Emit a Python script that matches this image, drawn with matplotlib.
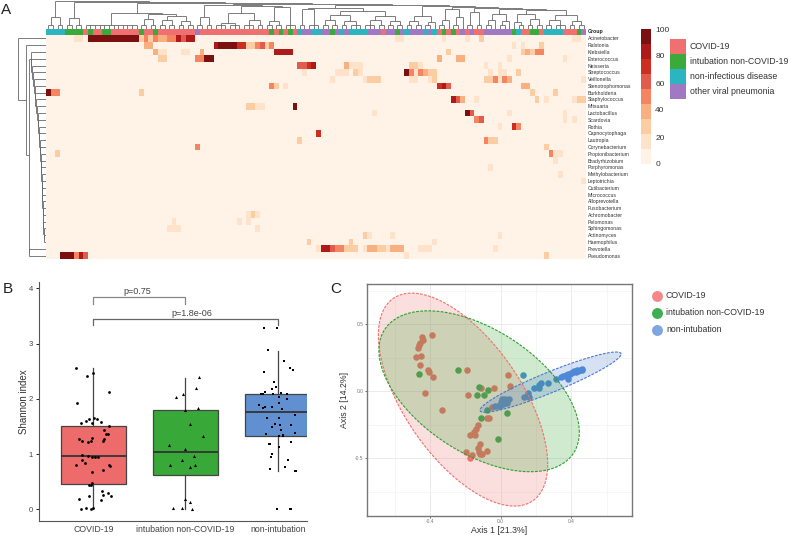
import numpy as np
import matplotlib
matplotlib.use("Agg")
import matplotlib.pyplot as plt
from matplotlib.collections import LineCollection
from matplotlib.colors import ListedColormap, BoundaryNorm
from matplotlib.patches import Rectangle

plt.rcParams['font.family'] = ['Liberation Sans', 'DejaVu Sans']

W, H = 789, 535

# ---- panel A data ----
genera = ["Acinetobacter", "Ralstonia", "Klebsiella", "Enterococcus", "Neisseria", "Streptococcus",
          "Veillonella", "Stenotrophomonas", "Burkholderia", "Staphylococcus", "Mitsuaria", "Lactobacillus",
          "Scardovia", "Rothia", "Capnocytophaga", "Lautropia", "Corynebacterium", "Propionibacterium",
          "Bradyrhizobium", "Porphyromonas", "Methylobacterium", "Leptotrichia", "Cutibacterium", "Micrococcus",
          "Alloprevotella", "Fusobacterium", "Achromobacter", "Pelomonas", "Sphingomonas", "Actinomyces",
          "Haemophilus", "Prevotella", "Pseudomonas"]
n_samples = 116

# (row, first column, number of columns, value)
heat_cells = [
    (0, 6, 2, 15), (0, 9, 11, 97), (0, 20, 1, 30), (0, 21, 1, 45), (0, 22, 1, 25), (0, 23, 1, 50), (0, 24, 2, 35),
    (0, 26, 2, 55), (0, 28, 1, 85), (0, 29, 1, 60), (0, 30, 2, 88), (0, 75, 2, 15), (0, 85, 1, 15), (0, 90, 1, 15),
    (0, 93, 1, 30), (0, 113, 2, 15),
    (1, 21, 2, 35), (1, 36, 1, 88), (1, 37, 4, 98), (1, 41, 2, 75), (1, 43, 2, 25), (1, 45, 1, 50), (1, 46, 1, 60),
    (1, 47, 1, 25), (1, 48, 1, 50), (1, 100, 1, 15), (1, 102, 1, 15), (1, 106, 1, 30),
    (2, 23, 1, 35), (2, 24, 1, 20), (2, 25, 1, 15), (2, 29, 2, 15), (2, 33, 1, 40), (2, 49, 1, 78), (2, 50, 3, 88),
    (2, 86, 1, 25), (2, 102, 1, 25), (2, 103, 1, 35), (2, 104, 1, 25), (2, 105, 2, 50),
    (3, 24, 2, 25), (3, 32, 2, 50), (3, 34, 2, 98), (3, 84, 1, 40), (3, 88, 2, 35), (3, 99, 1, 15), (3, 111, 1, 15),
    (4, 54, 2, 58), (4, 56, 1, 75), (4, 57, 1, 88), (4, 64, 1, 40), (4, 65, 3, 15), (4, 78, 2, 25), (4, 80, 1, 15),
    (4, 94, 1, 15), (4, 97, 1, 15),
    (5, 55, 1, 15), (5, 62, 3, 15), (5, 66, 1, 25), (5, 67, 1, 15), (5, 77, 1, 90), (5, 78, 1, 50), (5, 79, 1, 20),
    (5, 80, 1, 50), (5, 81, 1, 35), (5, 82, 2, 25), (5, 95, 1, 15), (5, 97, 2, 15), (5, 101, 1, 30),
    (6, 61, 1, 15), (6, 68, 1, 15), (6, 69, 3, 25), (6, 78, 2, 15), (6, 82, 1, 15), (6, 83, 1, 25), (6, 94, 2, 25),
    (6, 96, 1, 50), (6, 97, 1, 20), (6, 98, 1, 50), (6, 99, 1, 35), (6, 115, 1, 15),
    (7, 48, 1, 50), (7, 49, 1, 25), (7, 51, 1, 15), (7, 84, 1, 68), (7, 85, 1, 85), (7, 86, 1, 60), (7, 102, 2, 35),
    (8, 0, 1, 98), (8, 1, 2, 50), (8, 20, 1, 25), (8, 104, 1, 25), (8, 109, 1, 25),
    (9, 87, 1, 88), (9, 88, 1, 60), (9, 89, 1, 40), (9, 92, 1, 20), (9, 105, 1, 25), (9, 107, 1, 15), (9, 113, 1, 15),
    (9, 114, 2, 25),
    (10, 43, 2, 25), (10, 45, 1, 15), (10, 46, 1, 20), (10, 53, 1, 95),
    (11, 70, 1, 15), (11, 90, 1, 90), (11, 91, 1, 60), (11, 99, 1, 15), (11, 111, 1, 15),
    (12, 92, 1, 50), (12, 93, 1, 65), (12, 111, 1, 15), (12, 113, 1, 15),
    (13, 97, 1, 15), (13, 100, 1, 75), (13, 101, 1, 55),
    (14, 58, 1, 70),
    (15, 54, 1, 25), (15, 94, 1, 55), (15, 95, 2, 25),
    (16, 32, 1, 55), (16, 107, 1, 25),
    (17, 2, 1, 25), (17, 108, 1, 45), (17, 109, 2, 15),
    (18, 109, 1, 15), (19, 95, 1, 15), (20, 110, 1, 15), (21, 115, 1, 15),
    (26, 43, 1, 15), (26, 44, 1, 25), (26, 45, 1, 15),
    (27, 27, 1, 15), (27, 41, 1, 15), (27, 43, 1, 15),
    (28, 26, 3, 15), (28, 45, 1, 15),
    (29, 68, 1, 25), (29, 69, 1, 15), (29, 74, 1, 15), (29, 97, 1, 15),
    (30, 56, 1, 25), (30, 65, 1, 25), (30, 83, 1, 15),
    (31, 58, 1, 15), (31, 59, 2, 85), (31, 61, 1, 65), (31, 62, 2, 50), (31, 64, 3, 25), (31, 68, 1, 15),
    (31, 69, 2, 35), (31, 71, 2, 25), (31, 73, 1, 15), (31, 74, 3, 35), (31, 80, 3, 20), (31, 96, 1, 15),
    (32, 3, 1, 90), (32, 4, 2, 98), (32, 6, 1, 50), (32, 7, 1, 80), (32, 8, 1, 60), (32, 77, 1, 15), (32, 107, 1, 25),
]

# sample groups left to right: 0 COVID-19, 1 intubation, 2 non-infectious, 3 other viral
group_runs = [(2, 4), (1, 4), (0, 1), (1, 1), (0, 2), (1, 2), (0, 6), (1, 1), (0, 2), (1, 1), (0, 8), (3, 1), (0, 15),
              (1, 1), (0, 1), (1, 1), (0, 1), (1, 1), (0, 1), (2, 1), (3, 2), (2, 2), (3, 2), (1, 1), (3, 1), (2, 1),
              (3, 1), (2, 4), (3, 3), (0, 1), (3, 2), (1, 1), (3, 1), (2, 1), (3, 3), (2, 1), (3, 1), (2, 1), (0, 1),
              (1, 1), (0, 1), (1, 1), (0, 1), (3, 1), (0, 1), (3, 1), (0, 2), (3, 6), (1, 1), (2, 1), (0, 2), (1, 2),
              (0, 1), (2, 4), (0, 3), (1, 1), (3, 1)]
group_names = ["COVID-19", "intubation non-COVID-19", "non-infectious disease", "other viral pneumonia"]
group_colors = ["#EE7070", "#3BAA3B", "#2CB5C0", "#A078C4"]

heat_colors = ["#FFF3E8", "#FEE2CA", "#FCCDA2", "#F9B080", "#F58560", "#E25C4E", "#CC2E20", "#AE1A1A", "#7A1010"]

# dendrograms: (merge height, child, child), an int child is that many leaves
col_tree = (28, (12, 2, 2), (27, (11, 2, 2), (26,
    (16, 12, (15, (10, 2, 2), (13, (9, 2, 2), (8, 2, 2)))),
    (25.5, (24, (12, 2, 2), (23, (16, (6, 3, 3), (9, 3, 2)), (22, (8, 2, 2), 3))),
     (24, (21, (20, 2, 3), (18, (14, (9, 2, 2), (8, 2, 3)), (13, (9, 3, 2), (8, 2, 2)))),
      (23, (13, (8, 2, 2), (7, 2, 1)),
       (22, (20, (9, 2, 1), (12, 2, 1)),
        (21, (17, 2, 2),
         (20, (15, (9, 2, 1), (8, 2, 1)),
          (19, (15, (7, 1, 2), (10, 2, 2)), (14, (9, 2, 3), (8, 2, 2))))))))))))
row_chain_heights = [15.5, 15, 14.5, 13, 12.5, 11.5, 11, 10, 9.5, 8.5, 8, 7.5, 7, 6.5, 6, 5.5, 5, 5, 4.5, 4.5, 4, 4,
                     3.5, 3.5, 3, 3, 2.5, 2]

# ---- panel B data ----
box_labels = ["COVID-19", "intubation non-COVID-19", "non-intubation"]
box_colors = ["#EE6B6B", "#38A938", "#6090D0"]
box_q1 = [0.46, 0.62, 1.32]
box_med = [0.97, 1.03, 1.77]
box_q3 = [1.50, 1.80, 2.09]
box_lo = [0.0, 0.0, 0.70]
box_hi = [2.55, 2.38, 2.87]

covid_dx = [-.188, 0, -.072, .166, -.181, -.137, -.08, -.043, .007, .043, .08, -.018, .166, .119, .137, .155, -.155,
            -.119, -.054, -.029, -.018, .116, .108, -.127, -.054, -.014, .018, .047, -.119, -.087, -.188, .17, .177,
            .108, -.011, -.018, -.029, -.043, .094, .159, .192, .105, -.043, -.152, .08, -.08, -.137, -.029, -.007]
covid_shannon = [2.55, 2.46, 2.41, 2.12, 1.92, 1.56, 1.59, 1.63, 1.65, 1.63, 1.58, 1.56, 1.51, 1.44, 1.37, 1.37, 1.27,
                 1.24, 1.22, 1.24, 1.29, 1.27, 1.24, .98, .96, .94, .95, .94, .89, .83, .80, .81, .79,
                 .71, .68, .47, .44, .44, .33, .29, .24, .26, .24, .19, .16, .02, .01, .01, .02]
intub_dx = [.152, .116, -.025, -.105, .141, 0, .054, .192, -.181, 0, .094, -.033, -.166, .108, .054, 0, .047, -.137,
            -.043, .069]
intub_shannon = [2.39, 2.20, 2.09, 2.03, 1.84, 1.79, 1.54, 1.32, 1.16, 1.09, .97, .89, .80, .81, .77, .19, .13, .02,
                 .02, .01]
nonint_dx = [-.145, -.004, -.105, .065, .13, .17, -.145, -.036, -.014, -.058, -.137, -.184, -.159, -.051, .033, .105,
             .018, .011, .098, -.199, -.137, -.155, -.065, .051, .184, -.119, .011, -.029, .025, -.058, .148, .033,
             .192, -.13, .011, .054, .061, -.09, -.083, .141, .018, -.065, -.069, .112, .08, -.083, .192, .199, -.004,
             .134, .141]
nonint_shannon = [3.28, 3.28, 2.88, 2.69, 2.56, 2.53, 2.49, 2.30, 2.21, 2.17, 2.12, 2.08, 2.08, 2.08, 2.11, 2.09,
                  2.03, 1.92, 2.0, 1.88, 1.86, 1.84, 1.85, 1.82, 1.71, 1.66, 1.66, 1.55, 1.52, 1.49, 1.53, 1.43,
                  1.39, 1.36, 1.32, 1.35, 1.32, 1.19, 1.19, 1.21, 1.13, 1.01, .94, .90, .76, .73, .70, .70, .01,
                  .01, .01]

# ---- panel C data ----
covid_ax1 = [-.391, -.447, -.442, -.457, -.460, -.470, -.481, -.451, -.458, -.413, -.404, -.383, -.430, -.334, -.191,
             -.183, -.111, -.036, .043, .051, -.047, -.064, -.077, -.130, -.142, -.151, -.157, -.172, -.147, -.119,
             -.130, -.123, -.115, -.104, -.075, -.194, -.162, -.174]
covid_ax2 = [.420, .403, .383, .358, .346, .323, .259, .264, .199, .162, .142, .104, -.015, -.139, .162, -.027, .022,
             .022, .122, .037, -.114, -.201, -.201, -.249, -.281, -.301, -.321, -.328, -.326, -.393, -.425, -.450,
             -.468, -.470, -.448, -.453, -.473, -.498]
intub_ax1 = [-.460, -.242, -.121, -.070, -.094, -.134, -.075, -.109, .036, -.015]
intub_ax2 = [.132, .159, .032, .007, -.025, -.030, -.139, -.197, -.162, -.356]
nonint_ax1 = [.125, .311, .270, .228, .217, .187, .219, .153, .134, .160, .047, .025, .009, .034, .006, -.004, -.017,
              -.032, 0, .015, .462, .449, .440, .425, .411, .398, .383, .368, .355, .342, .458, .430, .417, .392,
              .379, .383]
nonint_ax2 = [.124, .090, .065, .065, .047, .025, .022, -.010, -.042, -.042, -.057, -.057, -.057, -.085, -.090, -.107,
              -.109, -.107, -.077, -.097, .169, .159, .154, .147, .142, .137, .132, .122, .114, .104, .162, .157,
              .149, .127, .122, .092]
pcoa_colors = ["#F0706C", "#33A852", "#4F8FD8"]
legend_colors = ["#F48888", "#3CB050", "#7FA6E0"]

# ellipses: centre x, centre y, half range x, half range y, correlation
ell_covid = (-.213, -.062, .479, .794, -.606)
ell_intub = (-.122, 0.0, .567, .600, -.51)
ell_nonint = (.282, .068, .399, .225, .93)
ell_colors = ["#F0706C", "#2CA02C", "#4A78D0"]


def px_axes(x0, y0, x1, y1):
    # rectangle given in image pixels, y counted from the top
    return fig.add_axes([x0 / W, 1 - y1 / H, (x1 - x0) / W, (y1 - y0) / H])


def tree_segments(node, segs, pos):
    if isinstance(node, int):
        xs = list(range(pos[0], pos[0] + node))
        pos[0] += node
        if node == 1:
            return xs[0], 0
        for x in xs:
            segs.append([(x, 0), (x, 4.5)])
        segs.append([(xs[0], 4.5), (xs[-1], 4.5)])
        return (xs[0] + xs[-1]) / 2, 4.5
    h, *kids = node
    pts = [tree_segments(k, segs, pos) for k in kids]
    for x, y in pts:
        segs.append([(x, y), (x, h)])
    segs.append([(pts[0][0], h), (pts[-1][0], h)])
    return (pts[0][0] + pts[-1][0]) / 2, h


fig = plt.figure(figsize=(W / 100, H / 100), dpi=100)

# overlay for the panel letters and hand placed legends
ov = fig.add_axes([0, 0, 1, 1])
ov.set_xlim(0, W)
ov.set_ylim(H, 0)
ov.axis("off")
ov.text(1, 9.5, "A", fontsize=11, color="#222222", va="center")
ov.text(3, 289, "B", fontsize=11, color="#222222", va="center")
ov.text(330, 289, "C", fontsize=11, color="#222222", va="center")

# ---- A: heatmap ----
matrix = np.zeros((len(genera), n_samples))
for row, start, n, value in heat_cells:
    matrix[row, start:start + n] = value
heat_cmap = ListedColormap(heat_colors)
heat_norm = BoundaryNorm(np.linspace(0, 100, 10), heat_cmap.N)

ax_heat = px_axes(46, 35, 586, 259)
im = ax_heat.imshow(matrix, cmap=heat_cmap, norm=heat_norm, aspect="auto", interpolation="nearest")
ax_heat.set_xticks([])
ax_heat.yaxis.tick_right()
ax_heat.set_yticks(range(len(genera)), genera, fontsize=3.7, color="#333333")
ax_heat.tick_params(axis="y", length=0, pad=1.2)
for s in ax_heat.spines.values():
    s.set_visible(False)

groups = []
for g, n in group_runs:
    groups += [g] * n
ax_grp = px_axes(46, 29, 586, 35)
ax_grp.imshow([groups], cmap=ListedColormap(group_colors), vmin=0, vmax=3, aspect="auto", interpolation="nearest")
ax_grp.axis("off")
ov.text(587.5, 32, "Group", fontsize=3.7, fontweight="bold", color="#222222", va="center")

ax_top = px_axes(46, 1, 586, 29)
segs = []
tree_segments(col_tree, segs, [0])
ax_top.add_collection(LineCollection(segs, colors="#666666", linewidths=0.6))
ax_top.set_xlim(-0.5, n_samples - 0.5)
ax_top.set_ylim(0, 28.5)
ax_top.axis("off")

row_chain = (row_chain_heights[-1], 1, 1)
for h in reversed(row_chain_heights[:-1]):
    row_chain = (h, 1, row_chain)
row_tree = (27.7, 1, (20, 1, (17, row_chain, (16.7, 1, 1))))
ax_left = px_axes(18, 35, 46, 259)
segs = []
tree_segments(row_tree, segs, [0])
segs = [[(y, x) for x, y in seg] for seg in segs]
ax_left.add_collection(LineCollection(segs, colors="#666666", linewidths=0.6))
ax_left.set_xlim(28, 0)
ax_left.set_ylim(len(genera) - 0.5, -0.5)
ax_left.axis("off")

cax = px_axes(641, 29, 651, 164)
cb = fig.colorbar(im, cax=cax, ticks=[0, 20, 40, 60, 80, 100])
cb.minorticks_off()
cb.outline.set_visible(False)
cb.ax.tick_params(length=0, labelsize=6, labelcolor="#333333", pad=3)

for i, name in enumerate(group_names):
    ov.add_patch(Rectangle((670.5, 39.3 + 15 * i), 15.5, 15, facecolor=group_colors[i], edgecolor="none"))
    ov.text(690, 46.8 + 15 * i, name, fontsize=6.3, color="#333333", va="center")

# ---- B: boxplot ----
ax_b = px_axes(38.5, 281.7, 307, 520.7)
stats = [dict(med=box_med[i], q1=box_q1[i], q3=box_q3[i], whislo=box_lo[i], whishi=box_hi[i], fliers=[])
         for i in range(3)]
bp = ax_b.bxp(stats, positions=[1, 2, 3], widths=0.7, patch_artist=True, showfliers=False, showcaps=False,
              boxprops=dict(edgecolor="#444444", linewidth=0.9),
              medianprops=dict(color="#333333", linewidth=1.3),
              whiskerprops=dict(color="#444444", linewidth=0.9))
for patch, c in zip(bp["boxes"], box_colors):
    patch.set_facecolor(c)
ax_b.scatter(1 + np.array(covid_dx), covid_shannon, s=4, c="black", marker="o", linewidths=0, zorder=5)
ax_b.scatter(2 + np.array(intub_dx), intub_shannon, s=5, c="black", marker="^", linewidths=0, zorder=5)
ax_b.scatter(3 + np.array(nonint_dx), nonint_shannon, s=4, c="black", marker="s", linewidths=0, zorder=5)
ax_b.plot([1, 1, 2, 2], [3.71, 3.84, 3.84, 3.71], color="#888888", lw=0.9)
ax_b.text(1.48, 3.94, "p=0.75", fontsize=6.5, color="#444444", ha="center", va="center")
ax_b.plot([1, 1, 3, 3], [3.34, 3.44, 3.44, 3.34], color="#666666", lw=0.9)
ax_b.text(2.07, 3.54, "p=1.8e-06", fontsize=6.5, color="#444444", ha="center", va="center")
ax_b.set_xlim(0.406, 3.318)
ax_b.set_ylim(-0.206, 4.12)
ax_b.set_xticks([1, 2, 3], box_labels, fontsize=6.3, color="#444444")
ax_b.set_yticks([0, 1, 2, 3, 4])
ax_b.tick_params(axis="y", labelsize=5.5, labelcolor="#444444", length=2, width=0.6, pad=2)
ax_b.tick_params(axis="x", length=0, pad=3)
ax_b.set_ylabel("Shannon index", fontsize=7, color="#333333", labelpad=0)
ax_b.spines["top"].set_visible(False)
ax_b.spines["right"].set_visible(False)
ax_b.spines["left"].set_color("#555555")
ax_b.spines["bottom"].set_color("#555555")

# ---- C: ordination ----
ax_c = px_axes(366.7, 284, 632, 516)
ax_c.set_xlim(-.758, .743)
ax_c.set_ylim(-.93, .80)
ax_c.set_axisbelow(True)
ax_c.set_xticks([-.4, 0, .4], ["-0.4", "0.0", "0.4"])
ax_c.set_yticks([-.5, 0, .5], ["-0.5", "0.0", "0.5"])
ax_c.set_xticks([-.6, -.2, .2, .6], minor=True)
ax_c.set_yticks([-.75, -.25, .25, .75], minor=True)
ax_c.grid(True, which="major", color="#EBEBEB", lw=0.7)
ax_c.grid(True, which="minor", color="#F3F3F3", lw=0.5)
ax_c.tick_params(which="minor", length=0)
ax_c.tick_params(which="major", length=1.5, width=0.4, labelsize=3.5, labelcolor="#777777", pad=1)
ax_c.scatter(covid_ax1, covid_ax2, s=22, c=pcoa_colors[0], linewidths=0, zorder=2)
ax_c.scatter(intub_ax1, intub_ax2, s=22, c=pcoa_colors[1], linewidths=0, zorder=2)
ax_c.scatter(nonint_ax1, nonint_ax2, s=22, c=pcoa_colors[2], linewidths=0, zorder=2)
t = np.linspace(0, 2 * np.pi, 200)
for (cx, cy, rx, ry, rho), c in zip([ell_covid, ell_intub, ell_nonint], ell_colors):
    ex = cx + rx * np.cos(t)
    ey = cy + ry * (rho * np.cos(t) + np.sqrt(1 - rho ** 2) * np.sin(t))
    ax_c.fill(ex, ey, color=c, alpha=0.22, linewidth=0, zorder=3)
    ax_c.plot(ex, ey, color=c, lw=0.8, ls=(0, (2.5, 1.2)), zorder=4)
ax_c.set_xlabel("Axis 1 [21.3%]", fontsize=6.3, color="#333333", labelpad=1)
ax_c.set_ylabel("Axis 2 [14.2%]", fontsize=6.3, color="#333333", labelpad=4)
for s in ax_c.spines.values():
    s.set_color("#777777")
    s.set_linewidth(1.0)

for i, name in enumerate(box_labels):
    y = 296 + 16.8 * i
    ov.scatter([656.7], [y], s=62, c=legend_colors[i], linewidths=0)
    ov.text(666, y, name, fontsize=6.3, color="#333333", va="center")

ov.set_xlim(0, W)
ov.set_ylim(H, 0)
fig.savefig("out.png", dpi=100)
